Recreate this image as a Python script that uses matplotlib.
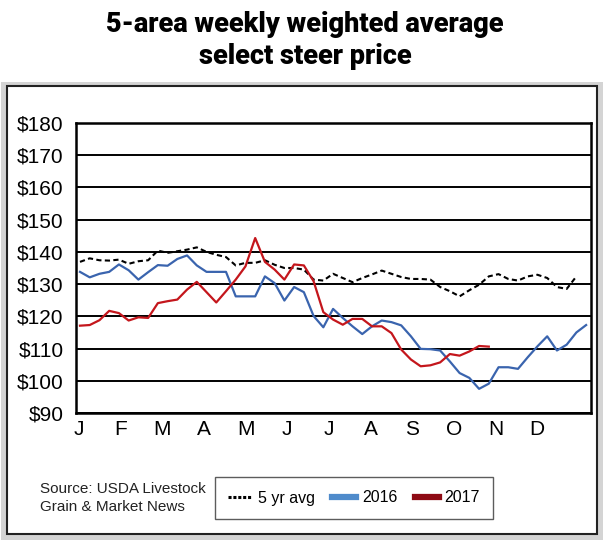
import numpy as np
import matplotlib
matplotlib.use("Agg")
import matplotlib.pyplot as plt
from matplotlib.lines import Line2D
from matplotlib.patches import Rectangle

# Недельные цены (USD за cwt)
avg5 = [136.9, 138.0, 137.4, 137.3, 137.6, 136.3, 137.1, 137.4, 140.4, 139.7,
        140.2, 140.7, 141.4, 140.0, 139.1, 138.4, 135.8, 136.6, 136.6, 137.4,
        136.0, 135.0, 135.0, 134.5, 131.4, 131.1, 133.2, 131.9, 130.6, 131.9,
        133.0, 134.2, 133.2, 132.2, 131.6, 131.6, 131.4, 129.1, 127.8, 126.2,
        128.1, 129.8, 132.4, 133.1, 131.6, 131.1, 132.4, 132.9, 131.9, 129.1,
        128.5, 132.4]
y2016 = [133.8, 132.1, 133.2, 133.8, 136.1, 134.3, 131.4, 133.7, 135.9, 135.7,
         137.8, 138.9, 135.8, 133.8, 133.8, 133.8, 126.2, 126.2, 126.2, 132.4,
         130.3, 124.9, 129.1, 127.5, 120.1, 116.6, 122.3, 119.5, 116.9, 114.5,
         116.9, 118.7, 118.2, 117.2, 113.8, 109.9, 109.8, 109.4, 106.0, 102.4,
         100.9, 97.5, 99.1, 104.2, 104.2, 103.7, 107.3, 110.7, 113.8, 109.4,
         111.2, 115.0, 117.3]
y2017 = [117.1, 117.3, 118.8, 121.7, 121.0, 118.7, 119.7, 119.5, 124.1, 124.7,
         125.2, 128.3, 130.7, 127.5, 124.3, 127.8, 131.4, 135.5, 144.3, 136.9,
         134.5, 131.4, 136.1, 135.8, 130.9, 121.3, 119.0, 117.4, 119.2, 119.2,
         116.9, 116.9, 114.8, 109.7, 106.6, 104.5, 104.8, 105.7, 108.3, 107.8,
         109.1, 110.8, 110.6]
months = ["J", "F", "M", "A", "M", "J", "J", "A", "S", "O", "N", "D"]
yticks = list(range(90, 181, 10))

sans = ["Liberation Sans", "DejaVu Sans"]

fig = plt.figure(figsize=(6.1, 5.45), dpi=100)
W, H = 610, 545

# рамка с тенью
fig.patches.append(Rectangle((1 / W, 5 / H), 602 / W, 458 / H, transform=fig.transFigure,
                             facecolor="#d4d4d4", edgecolor="none", zorder=0))
fig.patches.append(Rectangle((7 / W, 11 / H), 590 / W, 448 / H, transform=fig.transFigure,
                             facecolor="white", edgecolor="#222222", lw=1.5, zorder=1))

fig.text(0.5, 1 - 24 / H, "5-area weekly weighted average", ha="center", va="center",
         fontsize=19.5, fontweight="black", family=["Roboto", "DejaVu Sans"])
fig.text(0.5, 1 - 56 / H, "select steer price", ha="center", va="center",
         fontsize=19.5, fontweight="black", family=["Roboto", "DejaVu Sans"])

ax = fig.add_axes([76 / W, 1 - 413 / H, 515 / W, 290 / H], zorder=2)
ax.plot(np.arange(1, len(avg5) + 1), avg5, color="black", lw=1.5, ls=(0, (2.5, 1.6)))
ax.plot(np.arange(1, len(y2016) + 1), y2016, color="#3a64ae", lw=1.6)
ax.plot(np.arange(1, len(y2017) + 1), y2017, color="#c4161c", lw=1.6)

ax.set_xlim(0.59, 53.5)
ax.set_ylim(90, 180)
ax.set_yticks(yticks)
ax.set_yticklabels(["$%d" % v for v in yticks], family=sans, fontsize=15)
ax.set_xticks(0.9 + 4.28 * np.arange(12))
ax.set_xticklabels(months, family=sans, fontsize=15)
ax.tick_params(length=0, pad=9)
ax.tick_params(axis="x", pad=5)
ax.grid(axis="y", color="black", lw=1.4)
for s in ax.spines.values():
    s.set_linewidth(1.8)

fig.text(40 / W, 1 - 498 / H, "Source: USDA Livestock\nGrain & Market News",
         ha="left", va="center", fontsize=11, family=sans,
         linespacing=1.45, color="#222222")

handles = [Line2D([], [], color="black", lw=2.2, ls=(0, (1, 0.6))),
           Line2D([], [], color="#4f8bcb", lw=4.5),
           Line2D([], [], color="#8e0b14", lw=4.5)]
leg = fig.legend(handles, ["5 yr avg", "2016", "2017"], ncol=3,
                 loc="center", bbox_to_anchor=(354 / W, 1 - 498 / H),
                 frameon=True, fancybox=False, edgecolor="#333333",
                 prop={"family": sans, "size": 11.5}, handlelength=1.5,
                 handletextpad=0.35, columnspacing=1.1, borderpad=0.85)
leg.get_frame().set_linewidth(1.0)
leg.set_zorder(3)

fig.savefig("out.png", dpi=100)
